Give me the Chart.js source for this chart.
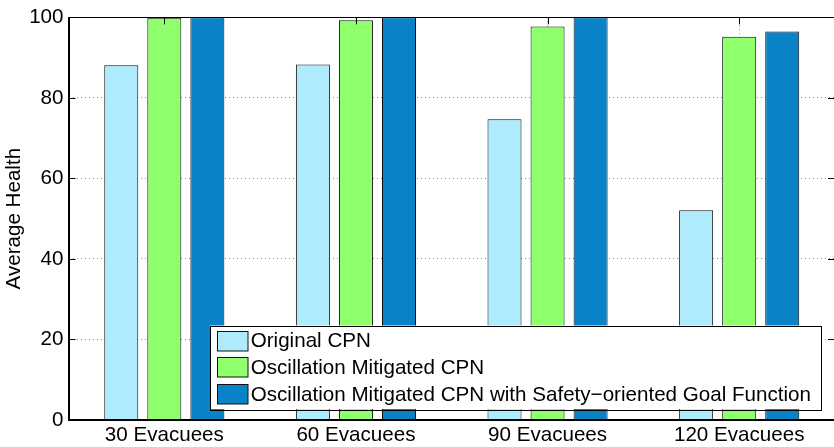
<!DOCTYPE html>
<html>
<head>
<meta charset="utf-8">
<script src="https://cdn.jsdelivr.net/npm/chart.js@4.4.1/dist/chart.umd.min.js"></script>
<style>
  html, body { margin: 0; padding: 0; background: #fff; overflow: hidden; }
  #wrap { position: relative; width: 836px; height: 447px; }
</style>
</head>
<body>
<div id="wrap"><canvas id="c" width="836" height="447"></canvas></div>
<script>
// Average health per scenario size, three controller variants
const categories = ['30 Evacuees', '60 Evacuees', '90 Evacuees', '120 Evacuees'];
const seriesNames = ['Original CPN', 'Oscillation Mitigated CPN', 'Oscillation Mitigated CPN with Safety\u2212oriented Goal Function'];
const originalCPN = [88.1, 88.3, 74.7, 52.1];
const mitigatedCPN = [99.9, 99.3, 97.7, 95.2];
const safetyGoalCPN = [100, 100, 100, 96.5];
const yTicks = [0, 20, 40, 60, 80, 100];
const seriesColors = ['#AEEBFC', '#8FFF6C', '#0A82C7'];

const FONT = '"Liberation Sans", Arial, Helvetica, sans-serif';
const FONT_SIZE = 20.6;
const TICK_LEN = 7;

// Closed axes box with inward tick marks on all sides
const framePlugin = {
  id: 'frame',
  afterDatasetsDraw(chart) {
    const { ctx, chartArea: a, scales } = chart;
    ctx.save();
    ctx.strokeStyle = '#000';
    ctx.lineWidth = 1;
    ctx.beginPath();
    scales.y.ticks.forEach(t => {
      const y = Math.round(scales.y.getPixelForValue(t.value)) + 0.5;
      ctx.moveTo(a.left, y); ctx.lineTo(a.left + TICK_LEN, y);
      ctx.moveTo(a.right, y); ctx.lineTo(a.right - TICK_LEN, y);
    });
    categories.forEach((c, i) => {
      const x = Math.round(scales.x.getPixelForValue(i)) + 0.5;
      ctx.moveTo(x, a.top); ctx.lineTo(x, a.top + TICK_LEN);
    });
    ctx.stroke();
    ctx.strokeRect(Math.round(a.left) + 0.5, Math.round(a.top) + 0.5,
                   Math.round(a.right - a.left), Math.round(a.bottom - a.top));
    ctx.lineWidth = 2;
    ctx.beginPath();
    ctx.moveTo(a.left, Math.round(a.bottom)); ctx.lineTo(a.right, Math.round(a.bottom));
    ctx.moveTo(Math.round(a.left), a.top); ctx.lineTo(Math.round(a.left), a.bottom);
    ctx.stroke();
    ctx.restore();
  }
};

// Boxed legend in the lower right corner of the plot
const boxLegendPlugin = {
  id: 'boxLegend',
  afterDraw(chart) {
    const { ctx, chartArea: a } = chart;
    const ds = chart.data.datasets;
    ctx.save();
    ctx.font = FONT_SIZE + 'px ' + FONT;
    const maxW = Math.max(...ds.map(d => ctx.measureText(d.label).width));
    const padL = 6.5, swW = 30.5, swH = 19.5, gap = 3.5, padR = 10, rowH = 26.8;
    const w = padL + swW + gap + maxW + padR;
    const h = 83.5;
    const right = a.right - 14;
    const top = a.bottom - 94.5;
    const left = right - w;
    ctx.fillStyle = '#fff';
    ctx.fillRect(left, top, w, h);
    ctx.strokeStyle = '#000';
    ctx.lineWidth = 1;
    ctx.strokeRect(Math.round(left) + 0.5, Math.round(top) + 0.5, Math.round(w), Math.round(h));
    ds.forEach((d, i) => {
      const cy = top + 14.8 + i * rowH;
      const sx = Math.round(left + padL) + 0.5;
      const sy = Math.round(cy - swH / 2) + 0.5;
      ctx.fillStyle = d.backgroundColor;
      ctx.fillRect(sx, sy, swW, swH);
      ctx.strokeStyle = '#111';
      ctx.strokeRect(sx, sy, swW, swH);
      ctx.fillStyle = '#000';
      ctx.textBaseline = 'middle';
      ctx.textAlign = 'left';
      ctx.fillText(d.label, left + padL + swW + gap, cy + 1);
    });
    ctx.restore();
  }
};

const seriesValues = [originalCPN, mitigatedCPN, safetyGoalCPN];

new Chart(document.getElementById('c'), {
  type: 'bar',
  data: {
    labels: categories,
    datasets: seriesValues.map((vals, i) => ({
      label: seriesNames[i],
      data: vals,
      backgroundColor: seriesColors[i],
      borderColor: '#0d0d0d',
      borderWidth: 1,
      categoryPercentage: 0.674,
      barPercentage: 0.79
    }))
  },
  options: {
    responsive: false,
    animation: false,
    devicePixelRatio: 1,
    layout: { padding: { top: 15, right: 1, left: 0, bottom: 0 } },
    plugins: {
      legend: { display: false },
      tooltip: { enabled: false }
    },
    scales: {
      x: {
        type: 'category',
        offset: true,
        grid: { offset: false, drawTicks: false, color: '#8a8a8a', lineWidth: 1 },
        border: { display: true, color: '#000', dash: [1, 3] },
        ticks: { color: '#000', font: { family: FONT, size: FONT_SIZE }, padding: 3, maxRotation: 0 },
        afterFit(scale) { scale.height = 27; }
      },
      y: {
        min: 0,
        max: 100,
        afterBuildTicks(scale) { scale.ticks = yTicks.map(v => ({ value: v })); },
        grid: { drawTicks: false, color: '#8a8a8a', lineWidth: 1 },
        border: { display: true, color: '#000', dash: [1, 3] },
        ticks: { color: '#000', font: { family: FONT, size: FONT_SIZE }, padding: 5 },
        title: {
          display: true,
          text: 'Average Health',
          color: '#000',
          font: { family: FONT, size: FONT_SIZE },
          padding: { top: 2, bottom: 0 }
        },
        afterFit(scale) { scale.width = 68.5; }
      }
    }
  },
  plugins: [framePlugin, boxLegendPlugin]
});
</script>
</body>
</html>
